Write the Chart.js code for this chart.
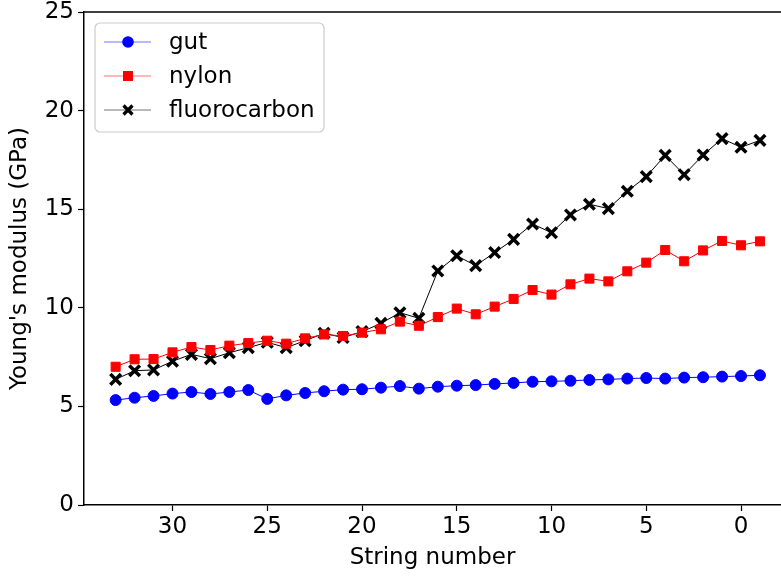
<!DOCTYPE html>
<html>
<head>
<meta charset="utf-8">
<script src="https://cdn.jsdelivr.net/npm/chart.js@4/dist/chart.umd.min.js"></script>
<style>
  html, body { margin: 0; padding: 0; background: #fff; }
  #wrap { width: 781px; height: 576px; }
</style>
</head>
<body>
<div id="wrap"><canvas id="chart" width="781" height="576"></canvas></div>
<script>
// string numbers, reading right to left on the plot
const strings = [33, 32, 31, 30, 29, 28, 27, 26, 25, 24, 23, 22, 21, 20, 19, 18, 17,
                 16, 15, 14, 13, 12, 11, 10, 9, 8, 7, 6, 5, 4, 3, 2, 1, 0, -1];

const gut = [5.32, 5.44, 5.53, 5.65, 5.73, 5.63, 5.73, 5.83, 5.38, 5.56, 5.68, 5.77,
             5.85, 5.87, 5.95, 6.03, 5.90, 6.00, 6.05, 6.08, 6.14, 6.19, 6.25, 6.27,
             6.30, 6.34, 6.37, 6.41, 6.44, 6.41, 6.46, 6.48, 6.51, 6.54, 6.58];

const nylon = [7.01, 7.39, 7.40, 7.74, 8.01, 7.86, 8.08, 8.21, 8.33, 8.18, 8.45, 8.65,
               8.57, 8.74, 8.91, 9.30, 9.09, 9.53, 9.96, 9.67, 10.06, 10.45, 10.90, 10.67,
               11.19, 11.48, 11.34, 11.85, 12.29, 12.93, 12.36, 12.91, 13.39, 13.17, 13.37];

const fluorocarbon = [6.37, 6.81, 6.85, 7.29, 7.64, 7.42, 7.72, 7.98, 8.25, 7.98, 8.33, 8.71,
                      8.49, 8.79, 9.21, 9.75, 9.47, 11.87, 12.64, 12.14, 12.80, 13.47, 14.25, 13.81,
                      14.71, 15.25, 15.03, 15.91, 16.65, 17.73, 16.75, 17.75, 18.58, 18.14, 18.49];

const xTicks = [30, 25, 20, 15, 10, 5, 0];
const yTicks = [0, 5, 10, 15, 20, 25];

const FONT = "'DejaVu Sans', sans-serif";
const FSIZE = 23;

const pts = vals => vals.map((v, i) => ({ x: strings[i], y: v }));

const series = [
  { label: "gut", data: gut, color: "#0000ff", style: "circle", r: 5.5, bw: 1 },
  { label: "nylon", data: nylon, color: "#ff0000", style: "rect", r: 6.4, bw: 1 },
  { label: "fluorocarbon", data: fluorocarbon, color: "#000000", style: "crossRot", r: 7.5, bw: 3.5 }
];

// no auto padding, fixed plot box like the original figure
const noPad = scale => {
  scale.paddingTop = 0; scale.paddingBottom = 0;
  scale.paddingLeft = 0; scale.paddingRight = 0;
};

// top spine + matplotlib style legend box
const framePlugin = {
  id: "frame",
  afterDraw(chart) {
    const ctx = chart.ctx;
    const a = chart.chartArea;
    ctx.save();
    ctx.strokeStyle = "#000";
    ctx.lineWidth = 1.5;
    ctx.beginPath();
    ctx.moveTo(a.left, a.top);
    ctx.lineTo(781, a.top);
    ctx.stroke();

    // legend
    const bx = 95, by = 23, bw = 229, bh = 109, rad = 5;
    ctx.fillStyle = "rgba(255,255,255,0.8)";
    ctx.strokeStyle = "#cccccc";
    ctx.lineWidth = 1.2;
    ctx.beginPath();
    ctx.roundRect(bx, by, bw, bh, rad);
    ctx.fill();
    ctx.stroke();

    const rows = [42, 76, 110];
    series.forEach((s, i) => {
      const y = rows[i];
      ctx.strokeStyle = s.color;
      ctx.globalAlpha = 0.55;
      ctx.lineWidth = 1.2;
      ctx.beginPath();
      ctx.moveTo(104, y);
      ctx.lineTo(151, y);
      ctx.stroke();
      ctx.globalAlpha = 1;
      ctx.fillStyle = s.color;
      ctx.strokeStyle = s.color;
      const cx = 128;
      if (s.style === "circle") {
        ctx.beginPath();
        ctx.arc(cx, y, 5.8, 0, Math.PI * 2);
        ctx.fill();
      } else if (s.style === "rect") {
        ctx.fillRect(cx - 5, y - 5, 10, 10);
      } else {
        ctx.lineWidth = 3.2;
        ctx.beginPath();
        ctx.moveTo(cx - 4.5, y - 4.5); ctx.lineTo(cx + 4.5, y + 4.5);
        ctx.moveTo(cx - 4.5, y + 4.5); ctx.lineTo(cx + 4.5, y - 4.5);
        ctx.stroke();
      }
      ctx.fillStyle = "#000";
      ctx.font = FSIZE + "px " + FONT;
      ctx.textBaseline = "middle";
      ctx.textAlign = "left";
      ctx.fillText(s.label, 169, y + 1);
    });
    ctx.restore();
  }
};

const ctx = document.getElementById("chart").getContext("2d");
new Chart(ctx, {
  type: "line",
  data: {
    datasets: series.map(s => ({
      label: s.label,
      data: pts(s.data),
      borderColor: s.color,
      backgroundColor: s.color,
      borderWidth: 1,
      pointStyle: s.style,
      pointRadius: s.r,
      pointBorderWidth: s.bw,
      pointBackgroundColor: s.color,
      pointBorderColor: s.color,
      tension: 0,
      clip: false
    }))
  },
  options: {
    responsive: false,
    animation: false,
    layout: { autoPadding: false, padding: { top: 12, left: 0, right: 0, bottom: 0 } },
    plugins: {
      legend: { display: false },
      tooltip: { enabled: false }
    },
    scales: {
      x: {
        type: "linear",
        reverse: true,
        min: -2.11,
        max: 34.67,
        afterBuildTicks: scale => { scale.ticks = xTicks.map(v => ({ value: v })); },
        afterFit: scale => { scale.height = 71; noPad(scale); },
        grid: { drawOnChartArea: false, drawTicks: true, tickLength: 6, tickColor: "#000", tickWidth: 1.2 },
        border: { display: true, color: "#000", width: 1.5 },
        ticks: { color: "#000", font: { family: FONT, size: FSIZE }, padding: 2, maxRotation: 0 },
        title: { display: true, text: "String number", color: "#000", font: { family: FONT, size: FSIZE }, padding: { top: 2, bottom: 4 } }
      },
      y: {
        min: 0,
        max: 25,
        afterBuildTicks: scale => { scale.ticks = yTicks.map(v => ({ value: v })); },
        afterFit: scale => { scale.width = 84; noPad(scale); },
        grid: { drawOnChartArea: false, drawTicks: true, tickLength: 6, tickColor: "#000", tickWidth: 1.2 },
        border: { display: true, color: "#000", width: 1.5 },
        ticks: { color: "#000", font: { family: FONT, size: FSIZE }, padding: 4 },
        title: { display: true, text: "Young's modulus (GPa)", color: "#000", font: { family: FONT, size: FSIZE }, padding: { top: 6, bottom: 2 } }
      }
    }
  },
  plugins: [framePlugin]
});
</script>
</body>
</html>
